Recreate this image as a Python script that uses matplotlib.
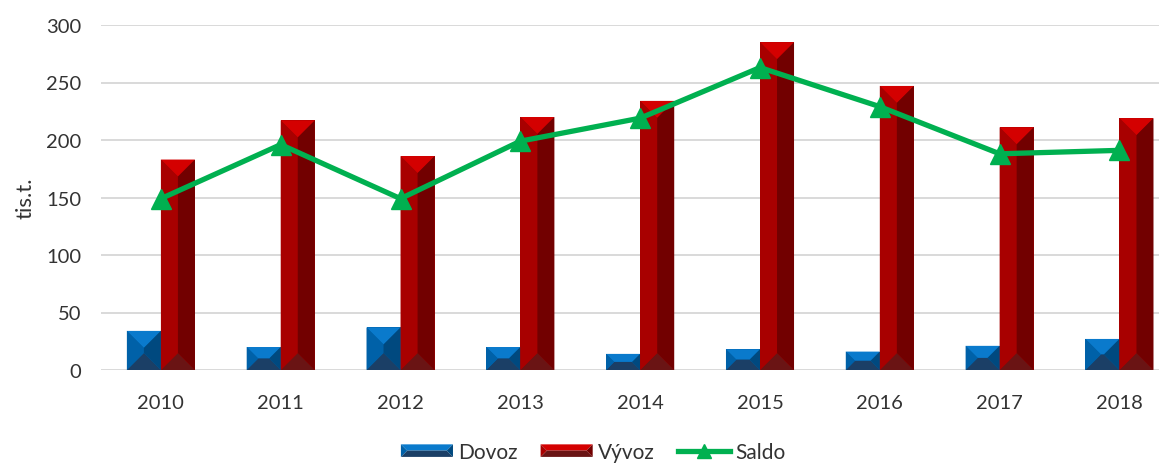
import numpy as np
import matplotlib.pyplot as plt
from matplotlib.patches import Polygon, Rectangle
from matplotlib.lines import Line2D
from matplotlib.legend_handler import HandlerBase

plt.rcParams["font.family"] = ["Lato", "DejaVu Sans"]

years = ["2010", "2011", "2012", "2013", "2014", "2015", "2016", "2017", "2018"]
dovoz = [34, 20, 37, 20, 14, 18, 16, 21, 27]
vyvoz = [183, 217, 186, 220, 234, 285, 247, 211, 219]
saldo = [149, 196, 149, 199, 219, 263, 229, 188, 191]

blue = dict(top="#0A7ACC", left="#0061A8", right="#00497F", bottom="#1B3F66")
red = dict(top="#D40000", left="#A80000", right="#720000", bottom="#6A1414")
green = "#00B050"
text_col = "#333333"


def bevel_faces(x0, y0, x1, y1):
    # pyramid-style bevel: four faces meeting in the middle
    b = min(x1 - x0, y1 - y0) / 2
    ix0, ix1 = x0 + b, x1 - b
    iy0, iy1 = y0 + b, y1 - b
    return {
        "top": [(x0, y1), (x1, y1), (ix1, iy1), (ix0, iy1)],
        "bottom": [(x0, y0), (x1, y0), (ix1, iy0), (ix0, iy0)],
        "left": [(x0, y0), (x0, y1), (ix0, iy1), (ix0, iy0)],
        "right": [(x1, y0), (x1, y1), (ix1, iy1), (ix1, iy0)],
    }


def bevel_bars(ax, bars, pal):
    to_px = ax.transData
    inv = to_px.inverted()
    for r in bars:
        (x0, y0), (x1, y1) = to_px.transform(
            [(r.get_x(), r.get_y()), (r.get_x() + r.get_width(), r.get_y() + r.get_height())])
        for name, pts in bevel_faces(x0, y0, x1, y1).items():
            ax.add_patch(Polygon(inv.transform(pts), closed=True,
                                 facecolor=pal[name], edgecolor="none", zorder=3))


class BevelHandler(HandlerBase):
    def __init__(self, pal):
        super().__init__()
        self.pal = pal

    def create_artists(self, legend, orig_handle, xdescent, ydescent,
                       width, height, fontsize, trans):
        x0, y0 = -xdescent, -ydescent
        out = []
        for name, pts in bevel_faces(x0, y0, x0 + width, y0 + height).items():
            out.append(Polygon(pts, closed=True, facecolor=self.pal[name],
                               edgecolor="none", transform=trans))
        return out


fig = plt.figure(figsize=(11.59, 4.64), dpi=100)
ax = fig.add_axes([101 / 1159, 93 / 464, 1 - 101 / 1159, 345 / 464])

x = np.arange(len(years))
w = 0.284
ax.set_xlim(-0.5, 8.33)
ax.set_ylim(0, 300)

b1 = ax.bar(x - w / 2, dovoz, w, color=blue["left"], zorder=2)
b2 = ax.bar(x + w / 2, vyvoz, w, color=red["left"], zorder=2)
bevel_bars(ax, b1, blue)
bevel_bars(ax, b2, red)

ax.plot(x, saldo, color=green, lw=3.8, marker="^", markersize=15,
        zorder=4, solid_capstyle="butt")

ax.set_yticks(range(0, 301, 50))
ax.set_xticks(x)
ax.set_xticklabels(years)
ax.yaxis.grid(True, color="#D9D9D9", lw=1.4, zorder=0)
ax.set_axisbelow(True)
for s in ax.spines.values():
    s.set_visible(False)
ax.tick_params(length=0, labelsize=14.5, colors=text_col)
ax.tick_params(axis="y", pad=14)
ax.tick_params(axis="x", pad=17)
ax.set_ylabel("tis.t.", fontsize=16, color=text_col, labelpad=8)

h_dov = Rectangle((0, 0), 1, 1)
h_vyv = Rectangle((0, 0), 1, 1)
h_sal = Line2D([], [], color=green, lw=3.8, marker="^", markersize=10)
fig.legend([h_dov, h_vyv, h_sal], ["Dovoz", "Vývoz", "Saldo"],
           handler_map={h_dov: BevelHandler(blue), h_vyv: BevelHandler(red)},
           loc="center", bbox_to_anchor=(593 / 1159, 1 - 453 / 464), ncol=3,
           frameon=False, fontsize=15, handlelength=2.5, handleheight=0.55,
           handletextpad=0.25, columnspacing=1.1, labelcolor=text_col)

fig.savefig("out.png", dpi=100)
